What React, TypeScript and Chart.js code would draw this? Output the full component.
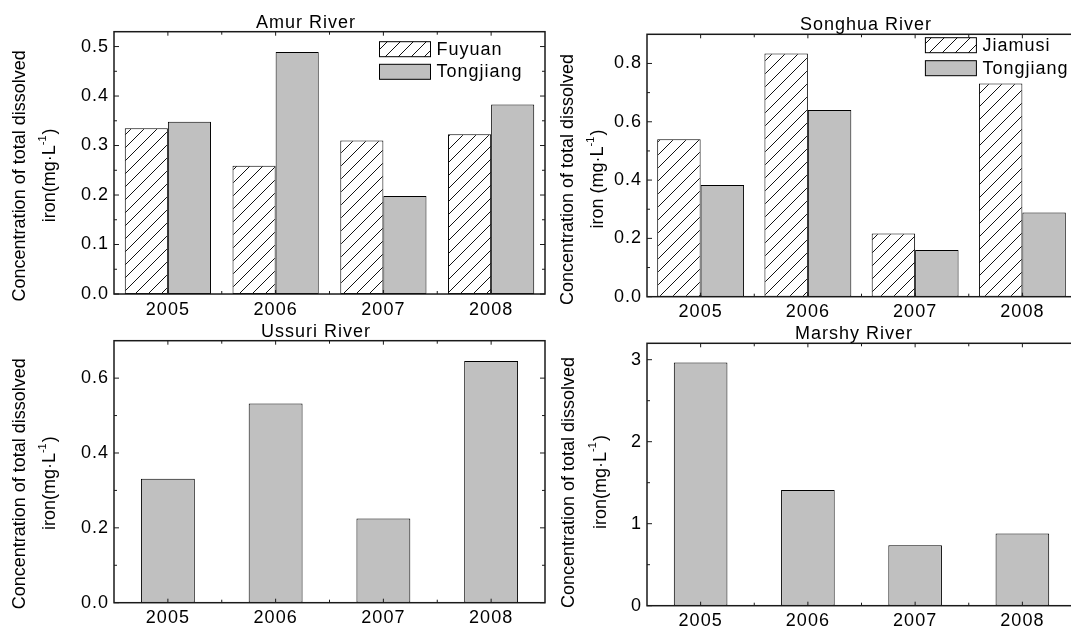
import React, { useEffect, useRef } from 'react';
import { Chart, registerables } from 'chart.js';

Chart.register(...registerables);

const FONT = '"Liberation Sans", Arial, sans-serif';
Chart.defaults.font.family = FONT;
Chart.defaults.font.size = 18;
Chart.defaults.color = '#000';

// ---------------- data ----------------
const years = ['2005', '2006', '2007', '2008'];
const amurFuyuan = [0.335, 0.259, 0.310, 0.323];
const amurTongjiang = [0.348, 0.489, 0.198, 0.383];
const songhuaJiamusi = [0.540, 0.834, 0.217, 0.731];
const songhuaTongjiang = [0.383, 0.640, 0.160, 0.289];
const ussuriValues = [0.331, 0.532, 0.225, 0.646];
const marshyValues = [2.967, 1.41, 0.737, 0.879];

const panelTitles = ['Amur River', 'Songhua River', 'Ussuri River', 'Marshy River'];
const yTitleLine1 = 'Concentration of total dissolved';
const yUnitPrefix = ['iron(mg·L', 'iron (mg·L', 'iron(mg·L', 'iron(mg·L'];
const yUnitSup = '-1';
const yUnitTail = ')';

// ---------------- layout ----------------
type Rect = { x: number; y: number; w: number; h: number };
type Area = { l: number; t: number; r: number; b: number };
type DS = { label: string; data: number[]; hatched: boolean };
type PanelCfg = {
  title: string;
  titleX: number;
  datasets: DS[];
  yMax: number;
  yStep: number;
  decimals: number;
  unit: string;
  box: Rect;
  area: Area;
  yTitleX: [number, number];
  yTitleDy: number;
  catPct: number;
  legend?: { x: number; y: number; dy: number };
};

const panels: PanelCfg[] = [
  {
    title: panelTitles[0],
    titleX: 306,
    datasets: [
      { label: 'Fuyuan', data: amurFuyuan, hatched: true },
      { label: 'Tongjiang', data: amurTongjiang, hatched: false },
    ],
    yMax: 0.53,
    yStep: 0.1,
    decimals: 1,
    unit: yUnitPrefix[0],
    box: { x: 0, y: 0, w: 570, h: 330 },
    area: { l: 114, t: 31.7, r: 545, b: 294 },
    yTitleX: [20.5, 50.5],
    yTitleDy: 13,
    catPct: 0.8,
    legend: { x: 379.5, y: 41.7, dy: 22.6 },
  },
  {
    title: panelTitles[1],
    titleX: 866,
    datasets: [
      { label: 'Jiamusi', data: songhuaJiamusi, hatched: true },
      { label: 'Tongjiang', data: songhuaTongjiang, hatched: false },
    ],
    yMax: 0.9,
    yStep: 0.2,
    decimals: 1,
    unit: yUnitPrefix[1],
    box: { x: 540, y: 0, w: 560, h: 330 },
    area: { l: 647, t: 34.3, r: 1076, b: 296.7 },
    yTitleX: [568.5, 598.5],
    yTitleDy: 14,
    catPct: 0.81,
    legend: { x: 925.4, y: 37.7, dy: 23 },
  },
  {
    title: panelTitles[2],
    titleX: 316,
    datasets: [{ label: 'Ussuri', data: ussuriValues, hatched: false }],
    yMax: 0.7,
    yStep: 0.2,
    decimals: 1,
    unit: yUnitPrefix[2],
    box: { x: 0, y: 312, w: 570, h: 316 },
    area: { l: 114, t: 340.7, r: 545, b: 602.7 },
    yTitleX: [20.5, 50.5],
    yTitleDy: 12,
    catPct: 0.5,
  },
  {
    title: panelTitles[3],
    titleX: 854,
    datasets: [{ label: 'Marshy', data: marshyValues, hatched: false }],
    yMax: 3.2,
    yStep: 1,
    decimals: 0,
    unit: yUnitPrefix[3],
    box: { x: 540, y: 312, w: 560, h: 316 },
    area: { l: 647, t: 343.3, r: 1076, b: 605.7 },
    yTitleX: [569.5, 601],
    yTitleDy: 8,
    catPct: 0.5,
  },
];

function makeHatch(): CanvasPattern | string {
  const s = 13;
  const c = document.createElement('canvas');
  c.width = s;
  c.height = s;
  const g = c.getContext('2d');
  if (!g) return '#fff';
  g.fillStyle = '#fff';
  g.fillRect(0, 0, s, s);
  g.strokeStyle = '#111';
  g.lineWidth = 1;
  g.beginPath();
  g.moveTo(0, s);
  g.lineTo(s, 0);
  g.moveTo(-2, 2);
  g.lineTo(2, -2);
  g.moveTo(s - 2, s + 2);
  g.lineTo(s + 2, s - 2);
  g.stroke();
  return g.createPattern(c, 'repeat') || '#fff';
}

const GRAY = '#c0c0c0';

function decorPlugin(p: PanelCfg) {
  return {
    id: 'decor',
    beforeDraw(chart: any) {
      (chart.ctx as any).letterSpacing = '1px';
    },
    afterDraw(chart: any) {
      const ctx: CanvasRenderingContext2D = chart.ctx;
      const a = chart.chartArea;
      const xs = chart.scales.x;
      const ys = chart.scales.y;
      ctx.save();
      const line = (x1: number, y1: number, x2: number, y2: number) => {
        ctx.beginPath();
        ctx.moveTo(x1, y1);
        ctx.lineTo(x2, y2);
        ctx.stroke();
      };
      // inward ticks
      ctx.strokeStyle = '#1a1a1a';
      ctx.lineWidth = 1;
      ys.ticks.forEach((t: any) => {
        const py = ys.getPixelForValue(t.value);
        line(a.left, py, a.left + 5, py);
        line(a.right, py, a.right - 5, py);
        const mv = t.value + p.yStep / 2;
        if (mv < ys.max) {
          const my = ys.getPixelForValue(mv);
          line(a.left, my, a.left + 3, my);
          line(a.right, my, a.right - 3, my);
        }
      });
      const n = xs.ticks.length;
      for (let i = 0; i < n; i++) {
        const px = xs.getPixelForTick(i);
        line(px, a.bottom, px, a.bottom - 4);
        line(px, a.top, px, a.top + 4);
        if (i < n - 1) {
          const mx = (px + xs.getPixelForTick(i + 1)) / 2;
          line(mx, a.bottom, mx, a.bottom - 3);
          line(mx, a.top, mx, a.top + 3);
        }
      }
      // frame
      ctx.lineWidth = 1.5;
      ctx.strokeRect(a.left, a.top, a.right - a.left, a.bottom - a.top);

      // title
      (ctx as any).letterSpacing = '1px';
      ctx.fillStyle = '#000';
      ctx.font = `18px ${FONT}`;
      ctx.textAlign = 'center';
      ctx.textBaseline = 'alphabetic';
      ctx.fillText(p.title, p.titleX - p.box.x, a.top - 4);

      // legend
      if (p.legend) {
        const lg = p.legend;
        chart.data.datasets.forEach((ds: any, i: number) => {
          const bx = lg.x - p.box.x;
          const by = lg.y - p.box.y + i * lg.dy;
          ctx.fillStyle = ds.backgroundColor;
          ctx.fillRect(bx, by, 51, 15);
          ctx.strokeStyle = '#000';
          ctx.lineWidth = 1;
          ctx.strokeRect(bx, by, 51, 15);
          ctx.fillStyle = '#000';
          ctx.textAlign = 'left';
          ctx.textBaseline = 'middle';
          ctx.fillText(ds.label, bx + 57, by + 8);
        });
      }

      // y-axis title (two lines, rotated)
      (ctx as any).letterSpacing = '0px';
      ctx.fillStyle = '#000';
      const cy = (a.top + a.bottom) / 2 + p.yTitleDy;
      ctx.save();
      ctx.translate(p.yTitleX[0] - p.box.x, cy);
      ctx.rotate(-Math.PI / 2);
      ctx.font = `18px ${FONT}`;
      ctx.textAlign = 'center';
      ctx.textBaseline = 'middle';
      ctx.fillText(yTitleLine1, 0, 0);
      ctx.restore();

      ctx.save();
      ctx.translate(p.yTitleX[1] - p.box.x, cy);
      ctx.rotate(-Math.PI / 2);
      ctx.textAlign = 'left';
      ctx.textBaseline = 'middle';
      ctx.font = `18px ${FONT}`;
      const w1 = ctx.measureText(p.unit).width;
      const w3 = ctx.measureText(yUnitTail).width;
      ctx.font = `11px ${FONT}`;
      const w2 = ctx.measureText(yUnitSup).width;
      let x0 = -(w1 + w2 + w3) / 2;
      ctx.font = `18px ${FONT}`;
      ctx.fillText(p.unit, x0, 0);
      x0 += w1;
      ctx.font = `11px ${FONT}`;
      ctx.fillText(yUnitSup, x0, -8);
      x0 += w2 + 1;
      ctx.font = `18px ${FONT}`;
      ctx.fillText(yUnitTail, x0, 0);
      ctx.restore();

      ctx.restore();
    },
  };
}

function Panel({ p }: { p: PanelCfg }) {
  const ref = useRef<HTMLCanvasElement | null>(null);
  useEffect(() => {
    const canvas = ref.current;
    if (!canvas) return;
    const hatch = makeHatch();
    const chart = new Chart(canvas, {
      type: 'bar',
      data: {
        labels: years,
        datasets: p.datasets.map((d) => ({
          label: d.label,
          data: d.data,
          backgroundColor: d.hatched ? (hatch as any) : GRAY,
          borderColor: '#000',
          borderWidth: 1,
          borderSkipped: false,
          categoryPercentage: p.catPct,
          barPercentage: 1,
        })),
      },
      options: {
        animation: false,
        responsive: false,
        maintainAspectRatio: false,
        devicePixelRatio: 1,
        events: [],
        layout: {
          padding: {
            left: 0,
            top: p.area.t - p.box.y,
            right: p.box.x + p.box.w - p.area.r,
            bottom: 0,
          },
        },
        plugins: {
          legend: { display: false },
          title: { display: false },
          tooltip: { enabled: false },
        },
        scales: {
          x: {
            type: 'category',
            offset: true,
            grid: { display: false, drawTicks: false },
            border: { display: false },
            ticks: { color: '#000', padding: 5, font: { size: 18 }, maxRotation: 0, autoSkip: false },
            afterFit: (s: any) => {
              s.height = p.box.y + p.box.h - p.area.b;
            },
          },
          y: {
            type: 'linear',
            min: 0,
            max: p.yMax,
            grid: { display: false, drawTicks: false },
            border: { display: false },
            ticks: {
              stepSize: p.yStep,
              includeBounds: false,
              padding: 5,
              color: '#000',
              font: { size: 18 },
              callback: (v: any) => Number(v).toFixed(p.decimals),
            },
            afterFit: (s: any) => {
              s.width = p.area.l - p.box.x;
            },
          },
        },
      } as any,
      plugins: [decorPlugin(p) as any],
    });
    return () => chart.destroy();
  }, [p]);
  return (
    <canvas
      ref={ref}
      width={p.box.w}
      height={p.box.h}
      style={{ position: 'absolute', left: p.box.x, top: p.box.y, width: p.box.w, height: p.box.h }}
    />
  );
}

export default function App() {
  return (
    <div
      style={{
        position: 'absolute',
        left: 0,
        top: 0,
        width: 1071,
        height: 628,
        overflow: 'hidden',
        background: '#fff',
      }}
    >
      {panels.map((p, i) => (
        <Panel key={i} p={p} />
      ))}
    </div>
  );
}
